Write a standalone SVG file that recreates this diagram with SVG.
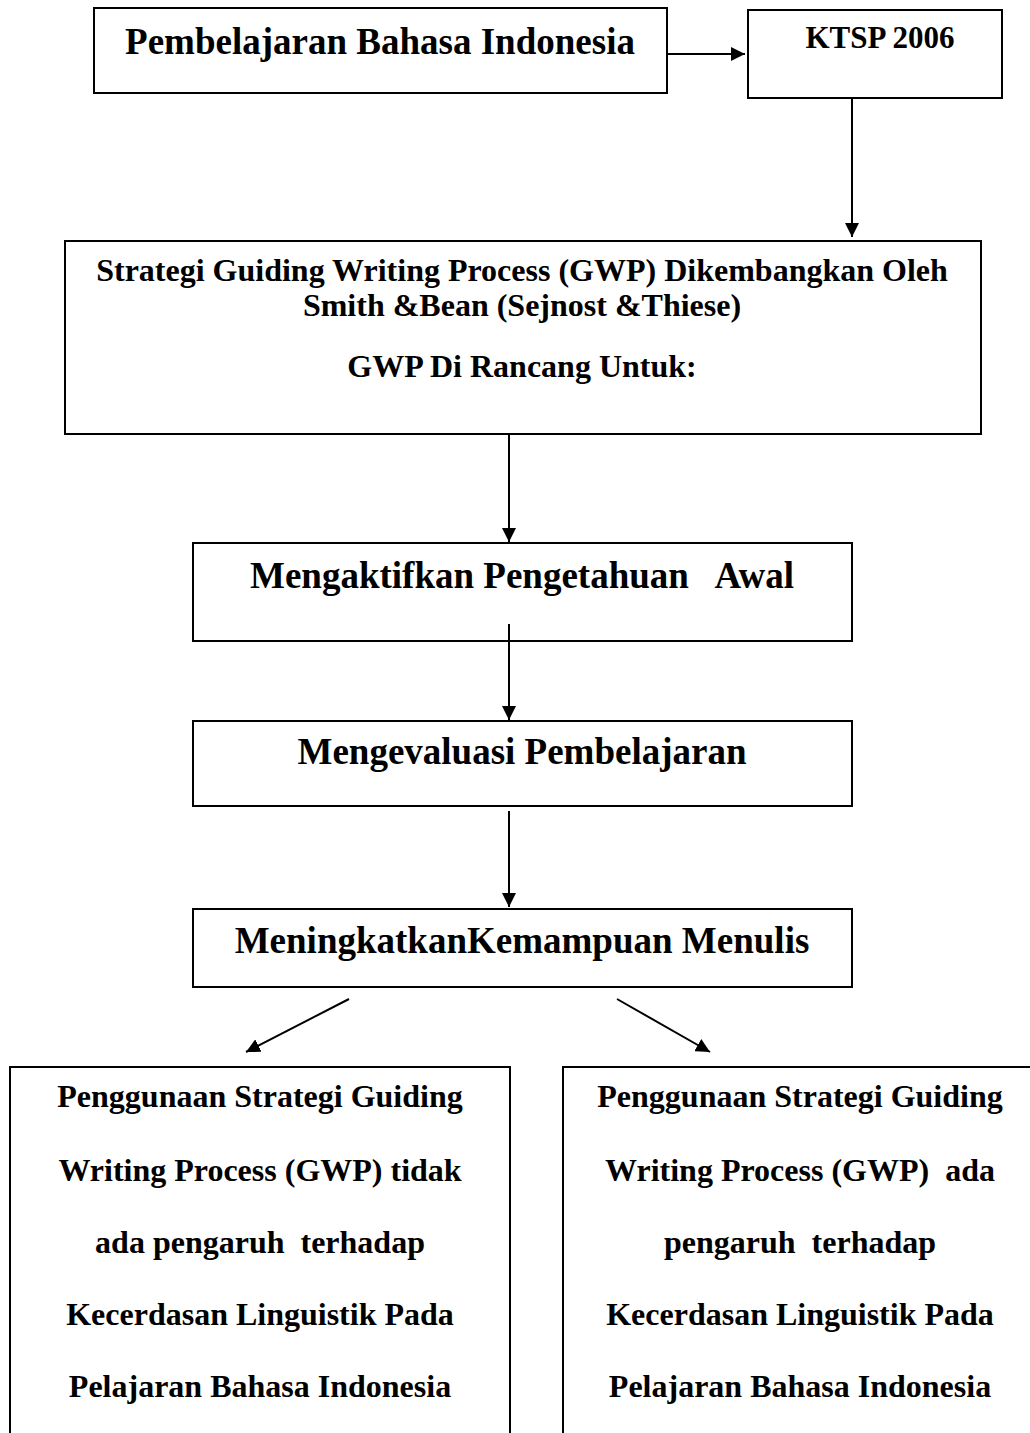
<svg xmlns="http://www.w3.org/2000/svg" width="1030" height="1433" viewBox="0 0 1030 1433">
<style>
.box{fill:#fff;stroke:#000;stroke-width:2}
text{font-family:"Liberation Serif","Times New Roman",serif;font-weight:bold;fill:#000;text-anchor:middle}
.t1{font-size:37px}
.t2{font-size:31px}
.t3{font-size:32px}
.t4{font-size:37px}
.t5{font-size:32px}
.c{stroke:#000;stroke-width:2;fill:none;marker-end:url(#ah)}
</style>
<defs>
<marker id="ah" viewBox="0 0 10 10" refX="10" refY="5" markerWidth="7" markerHeight="7" markerUnits="strokeWidth" orient="auto">
<path d="M0,0 L10,5 L0,10 z" fill="#000"/>
</marker>
</defs>
<rect width="1030" height="1433" fill="#fff"/>
<g id="n1"><rect class="box" x="94" y="8" width="573" height="85"/><text class="t1" x="380" y="54">Pembelajaran Bahasa Indonesia</text></g>
<g id="n2"><rect class="box" x="748" y="10" width="254" height="88"/><text class="t2" x="880" y="48">KTSP 2006</text></g>
<g id="n3"><rect class="box" x="65" y="241" width="916" height="193"/>
<text class="t3" x="522" y="281">Strategi Guiding Writing Process (GWP) Dikembangkan Oleh</text>
<text class="t3" x="522" y="316">Smith &amp;Bean (Sejnost &amp;Thiese)</text>
<text class="t3" x="522" y="377">GWP Di Rancang Untuk:</text></g>
<g id="n4"><rect class="box" x="193" y="543" width="659" height="98"/><text class="t4" x="522" y="588" xml:space="preserve">Mengaktifkan Pengetahuan   Awal</text></g>
<g id="n5"><rect class="box" x="193" y="721" width="659" height="85"/><text class="t4" x="522" y="764">Mengevaluasi Pembelajaran</text></g>
<g id="n6"><rect class="box" x="193" y="909" width="659" height="78"/><text class="t4" x="522" y="953">MeningkatkanKemampuan Menulis</text></g>
<g id="n7"><rect class="box" x="10" y="1067" width="500" height="380"/>
<text class="t5" x="260" y="1107">Penggunaan Strategi Guiding</text>
<text class="t5" x="260" y="1181">Writing Process (GWP) tidak</text>
<text class="t5" x="260" y="1253" xml:space="preserve">ada pengaruh  terhadap</text>
<text class="t5" x="260" y="1325">Kecerdasan Linguistik Pada</text>
<text class="t5" x="260" y="1397">Pelajaran Bahasa Indonesia</text></g>
<g id="n8"><rect class="box" x="563" y="1067" width="480" height="380"/>
<text class="t5" x="800" y="1107">Penggunaan Strategi Guiding</text>
<text class="t5" x="800" y="1181" xml:space="preserve">Writing Process (GWP)  ada</text>
<text class="t5" x="800" y="1253" xml:space="preserve">pengaruh  terhadap</text>
<text class="t5" x="800" y="1325">Kecerdasan Linguistik Pada</text>
<text class="t5" x="800" y="1397">Pelajaran Bahasa Indonesia</text></g>
<g id="connectors">
<line class="c" x1="667" y1="54" x2="745" y2="54"/>
<line class="c" x1="852" y1="98" x2="852" y2="237"/>
<line class="c" x1="509" y1="434" x2="509" y2="542"/>
<line class="c" x1="509" y1="624" x2="509" y2="720"/>
<line class="c" x1="509" y1="811" x2="509" y2="907"/>
<line class="c" x1="349" y1="999" x2="246" y2="1052"/>
<line class="c" x1="617" y1="999" x2="710" y2="1052"/>
</g>
</svg>
